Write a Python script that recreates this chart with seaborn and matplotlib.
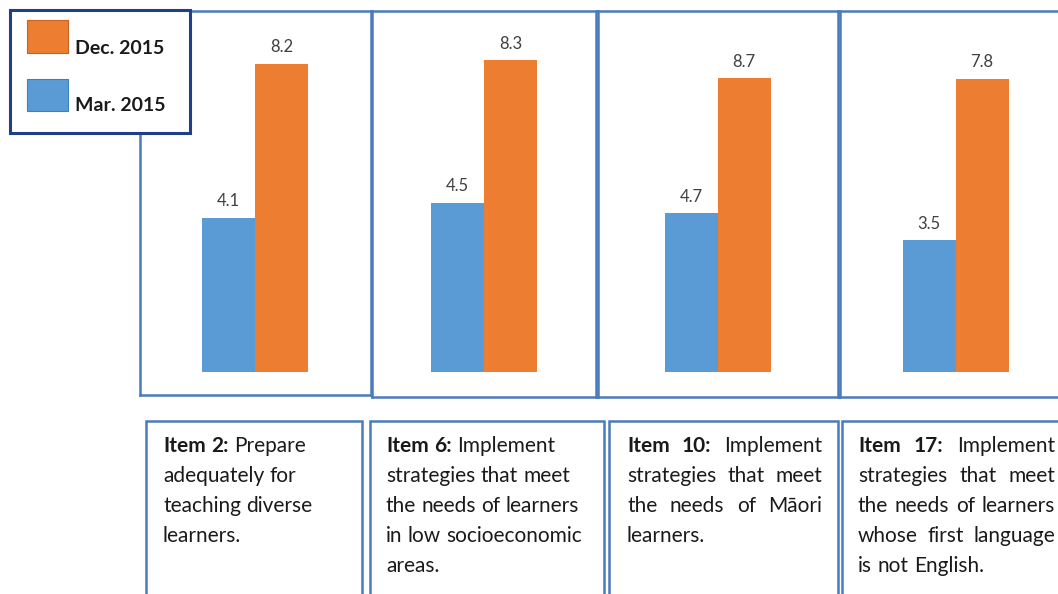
import matplotlib
matplotlib.use("Agg")
import matplotlib.pyplot as plt
import seaborn as sns
import pandas as pd
from matplotlib.patches import Rectangle

# ---- data -------------------------------------------------------------
items = ["Item 2", "Item 6", "Item 10", "Item 17"]
mar_2015 = [4.1, 4.5, 4.7, 3.5]
dec_2015 = [8.2, 8.3, 8.7, 7.8]
periods = ["Mar. 2015", "Dec. 2015"]
descriptions = [
    ["Prepare", "adequately for", "teaching diverse", "learners."],
    ["Implement", "strategies that meet", "the needs of learners",
     "in low socioeconomic", "areas."],
    ["Implement", "strategies that meet", "the needs of Māori", "learners."],
    ["Implement", "strategies that meet", "the needs of learners",
     "whose first language", "is not English."],
]

# ---- styling / layout -------------------------------------------------
W, H = 1058, 594
BLUE = "#5B9BD5"
ORANGE = "#ED7D31"
FRAME = "#4A7BBD"
NAVY = "#203F8A"
TEXT = "#1A1A1A"
LABEL = "#404040"

sns.set_theme(style="white")
plt.rcParams["font.family"] = ["Lato", "DejaVu Sans"]

fig = plt.figure(figsize=(W / 100, H / 100), dpi=100)
fig.patch.set_facecolor("white")


def fx(x):
    return x / W


def fy(y):
    return 1 - y / H


# panel frames (pixel): left, right, top, bottom ; bar group centre
panels = [(140, 371, 11, 395, 255), (372, 596, 11, 397, 484),
          (598, 838, 11, 397, 717.5), (840, 1075, 11, 397, 955.5)]
axis_top = [9.6, 9.6, 10.7, 9.6]   # value reached at the frame's top edge
BASE = 372                          # pixel row of the bars' baseline
PX_PER_X = 132.5                    # horizontal pixels per category unit

for i, (x0, x1, y0, y1, bc) in enumerate(panels):
    ax = fig.add_axes([fx(x0), fy(y1), (x1 - x0) / W, (y1 - y0) / H])
    df = pd.DataFrame({
        "item": [items[i]] * 2,
        "period": periods,
        "score": [mar_2015[i], dec_2015[i]],
    })
    sns.barplot(data=df, x="item", y="score", hue="period", hue_order=periods,
                palette=[BLUE, ORANGE], saturation=1, width=0.8, linewidth=0,
                legend=False, ax=ax)
    s = (BASE - y0) / axis_top[i]
    ax.set_ylim(-(y1 - BASE) / s, axis_top[i])
    ax.set_xlim((x0 - bc) / PX_PER_X, (x1 - bc) / PX_PER_X)
    for c in ax.containers:
        ax.bar_label(c, fmt="%.1f", padding=6, fontsize=12, color=LABEL)
    ax.set_xticks([])
    ax.set_yticks([])
    ax.set_xlabel("")
    ax.set_ylabel("")
    for sp in ax.spines.values():
        sp.set_visible(True)
        sp.set_color(FRAME)
        sp.set_linewidth(1.8)

# ---- legend -----------------------------------------------------------
fig.add_artist(Rectangle((fx(10), fy(133)), 180 / W, 123 / H,
                         transform=fig.transFigure, facecolor="white",
                         edgecolor=NAVY, linewidth=2.2, zorder=10))
fig.add_artist(Rectangle((fx(27), fy(53)), 41 / W, 33 / H,
                         transform=fig.transFigure, facecolor=ORANGE,
                         edgecolor="#C8641F", linewidth=0.8, zorder=11))
fig.add_artist(Rectangle((fx(27), fy(111)), 41 / W, 32 / H,
                         transform=fig.transFigure, facecolor=BLUE,
                         edgecolor="#3F7FBF", linewidth=0.8, zorder=11))
fig.text(fx(75), fy(54), periods[1], fontsize=14, fontweight="bold",
         color=TEXT, va="baseline", ha="left", zorder=12)
fig.text(fx(75), fy(111), periods[0], fontsize=14, fontweight="bold",
         color=TEXT, va="baseline", ha="left", zorder=12)

# ---- description boxes ------------------------------------------------
boxes = [(146, 362), (370, 604), (609, 838), (842, 1075)]
text_x = [(163, None), (386, None), (627, 822), (858, 1055)]
FS = 15
for (bx0, bx1) in boxes:
    fig.add_artist(Rectangle((fx(bx0), fy(600)), (bx1 - bx0) / W, 179 / H,
                             transform=fig.transFigure, facecolor="none",
                             edgecolor=FRAME, linewidth=1.8))

renderer = fig.canvas.get_renderer()


def text_width(s, bold=False):
    t = fig.text(0, 0, s, fontsize=FS, fontweight="bold" if bold else "normal")
    w = t.get_window_extent(renderer).width
    t.remove()
    return w


SPACE = text_width("x x") - text_width("xx")


def draw_line(words, bolds, xl, yb, xr=None):
    texts = [fig.text(0, fy(yb), w, fontsize=FS, color=TEXT,
                      fontweight="bold" if b else "normal",
                      va="baseline", ha="left") for w, b in zip(words, bolds)]
    widths = [t.get_window_extent(renderer).width for t in texts]
    if xr is None or len(words) < 2:
        gap = SPACE
    else:
        gap = (xr - xl - sum(widths)) / (len(words) - 1)
    x = xl
    for t, w in zip(texts, widths):
        t.set_x(fx(x))
        x += w + gap


for i, lines in enumerate(descriptions):
    xl, xr = text_x[i]
    for j, line in enumerate(lines):
        words = line.split()
        bolds = [False] * len(words)
        if j == 0:
            head = (items[i] + ":").split()
            words = head + words
            bolds = [True] * len(head) + bolds
        last = j == len(lines) - 1
        draw_line(words, bolds, xl, 452 + 30 * j, None if last else xr)

fig.savefig("out.png", dpi=100, facecolor="white")
